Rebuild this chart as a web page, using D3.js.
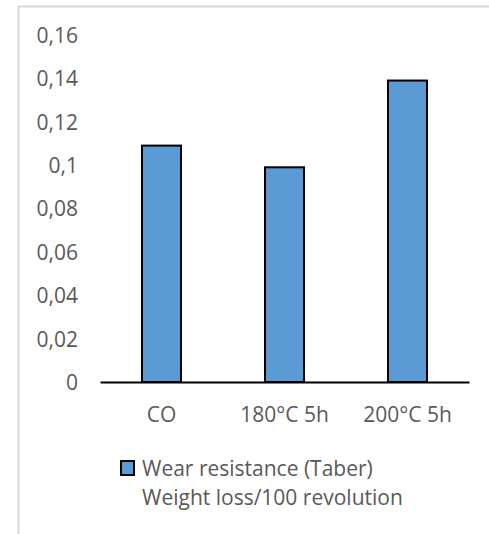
<!DOCTYPE html>
<html>
<head>
<meta charset="utf-8">
<script src="https://cdn.jsdelivr.net/npm/d3@7"></script>
<style>
  body { margin: 0; background: #fff; }
  svg { display: block; }
</style>
</head>
<body>
<svg width="489" height="534"></svg>
<script>
// values
const categories = ["CO", "180°C 5h", "200°C 5h"];
const values = [0.109, 0.099, 0.139];
const yTicks = [0, 0.02, 0.04, 0.06, 0.08, 0.1, 0.12, 0.14, 0.16];
const legendLines = ["Wear resistance (Taber)", "Weight loss/100 revolution"];

const svg = d3.select("svg");
const font = "'Open Sans', sans-serif";
const fontSize = 21;
const grey = "#595959";

// chart frame
svg.append("rect")
  .attr("x", 18.5)
  .attr("y", 6.5)
  .attr("width", 600)
  .attr("height", 600)
  .attr("fill", "none")
  .attr("stroke", "#d9d9d9")
  .attr("stroke-width", 2);

var x = d3.scaleBand()
  .domain(categories)
  .range([100, 469])
  .paddingInner(0.683)
  .paddingOuter(0.3415);

var y = d3.scaleLinear()
  .domain([0, 0.16])
  .range([382, 35]);

const fmt = function (d) {
  return String(d).replace(".", ",");
};

svg.append("g")
  .selectAll("text")
  .data(yTicks)
  .enter()
  .append("text")
  .attr("x", 78)
  .attr("y", function (d) { return y(d); })
  .attr("dy", "0.38em")
  .attr("text-anchor", "end")
  .attr("font-family", font)
  .attr("font-size", fontSize)
  .attr("fill", grey)
  .text(fmt);

svg.append("g")
  .selectAll("rect")
  .data(values)
  .enter()
  .append("rect")
  .attr("x", function (d, i) { return x(categories[i]); })
  .attr("y", function (d) { return y(d); })
  .attr("width", x.bandwidth())
  .attr("height", function (d) { return y(0) - y(d); })
  .attr("fill", "#5b9bd5")
  .attr("stroke", "#000")
  .attr("stroke-width", 2);

// category axis
const xAxis = svg.append("g")
  .attr("transform", "translate(0," + y(0) + ")")
  .call(d3.axisBottom(x).tickSize(0).tickPadding(25));
xAxis.select(".domain")
  .attr("stroke", "#000")
  .attr("stroke-width", 2);
xAxis.selectAll("text")
  .attr("font-family", font)
  .attr("font-size", fontSize)
  .attr("fill", grey);

// legend
svg.append("rect")
  .attr("x", 121)
  .attr("y", 461)
  .attr("width", 13)
  .attr("height", 14)
  .attr("fill", "#5b9bd5")
  .attr("stroke", "#000")
  .attr("stroke-width", 2);

svg.append("g")
  .selectAll("text")
  .data(legendLines)
  .enter()
  .append("text")
  .attr("x", 142)
  .attr("y", function (d, i) { return 475.5 + i * 29.5; })
  .attr("font-family", font)
  .attr("font-size", fontSize)
  .attr("fill", grey)
  .text(function (d) { return d; });
</script>
</body>
</html>
